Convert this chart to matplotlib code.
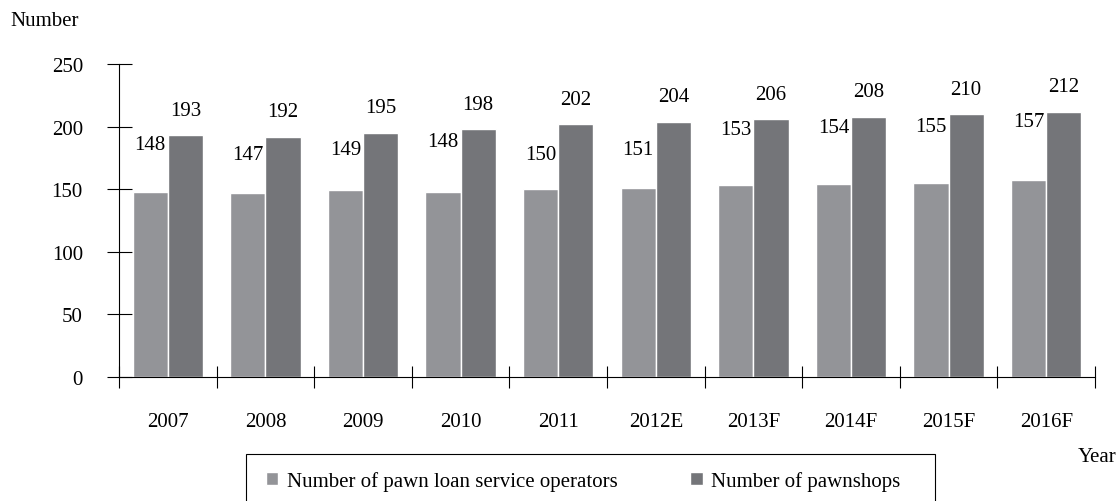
import matplotlib.pyplot as plt
from matplotlib.patches import Rectangle
import numpy as np

years = ["2007", "2008", "2009", "2010", "2011", "2012E", "2013F", "2014F", "2015F", "2016F"]
operators = [148, 147, 149, 148, 150, 151, 153, 154, 155, 157]
pawnshops = [193, 192, 195, 198, 202, 204, 206, 208, 210, 212]
# vertical lift of the operator labels above their bars (value units)
operator_label_lift = [38, 31, 33, 40, 28, 31, 45, 45, 45, 47]

plt.rcParams['font.family'] = ['Liberation Serif', 'DejaVu Serif']
FS = 15
plt.rcParams['font.size'] = FS

light = '#939498'
dark = '#747579'

W, H = 1116, 502
fig = plt.figure(figsize=(W / 100, H / 100), dpi=100)
ax = fig.add_axes([119 / W, 1 - 378 / H, (1095 - 119) / W, (378 - 65) / H])

x = np.arange(len(years))
w = 0.36
b1 = ax.bar(x - w / 2, operators, width=w, color=light, edgecolor='white', linewidth=1.0,
            label='Number of pawn loan service operators', zorder=2)
b2 = ax.bar(x + w / 2, pawnshops, width=w, color=dark, edgecolor='white', linewidth=1.0,
            label='Number of pawnshops', zorder=2)

for xi, v, lift in zip(x, operators, operator_label_lift):
    ax.text(xi - w / 2, v + lift, f"{v}", ha='center', va='center', fontsize=FS)
for xi, v in zip(x, pawnshops):
    ax.text(xi + w / 2, v + 20, f"{v}", ha='center', va='center', fontsize=FS)

ax.set_xlim(-0.5, len(years) - 0.5)
ax.set_ylim(0, 250)
ax.set_yticks(np.arange(0, 251, 50))
ax.set_xticks(x)
ax.set_xticklabels(years)
ax.set_xticks(np.arange(-0.5, len(years)), minor=True)
ax.tick_params(axis='x', which='major', length=0, pad=25)
ax.tick_params(axis='x', which='minor', direction='inout', length=16, width=0.8)
ax.tick_params(axis='y', direction='inout', length=18, width=0.8, pad=17)

for s in ['top', 'right']:
    ax.spines[s].set_visible(False)
ax.spines['left'].set_linewidth(0.8)
ax.spines['bottom'].set_linewidth(0.8)

fig.text(10 / W, 1 - 21 / H, "Number", ha='left', va='center', fontsize=FS)
fig.text(1, 1 - 458 / H, "Year", ha='right', va='center', fontsize=FS)

# legend box, open at the bottom edge of the figure
fig.patches.append(Rectangle((246 / W, -0.05), (935 - 246) / W, 0.05 + (502 - 455) / H,
                             transform=fig.transFigure, fill=False, edgecolor='black',
                             linewidth=0.8))
leg = fig.legend(handles=[b1, b2], loc='upper left',
                 bbox_to_anchor=(247 / W, 1 - 453 / H), ncol=2,
                 frameon=False,
                 handlelength=0.6, handleheight=0.6, handletextpad=0.4,
                 columnspacing=3.5, borderpad=0.9, borderaxespad=0, fontsize=FS)

fig.savefig('out.png', dpi=100)
